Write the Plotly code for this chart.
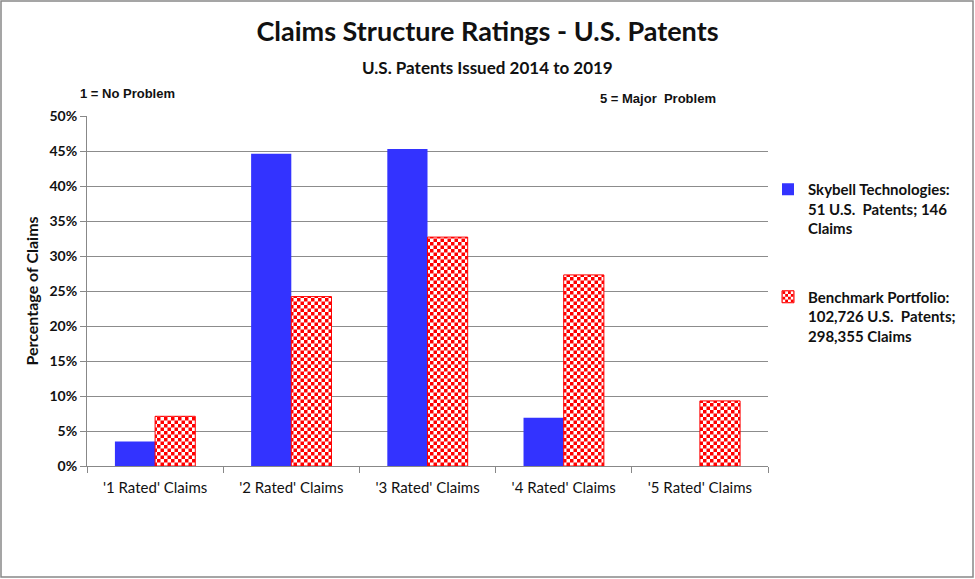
import plotly.graph_objects as go

# ---- data ----
categories = ["'1 Rated' Claims", "'2 Rated' Claims", "'3 Rated' Claims",
              "'4 Rated' Claims", "'5 Rated' Claims"]
skybell_pct = [3.5, 44.6, 45.3, 6.9, 0.0]
benchmark_pct = [7.1, 24.2, 32.7, 27.3, 9.3]
skybell_name = "<b>Skybell Technologies:<br>51 U.S.  Patents; 146<br>Claims</b>"
benchmark_name = "<b>Benchmark Portfolio:<br>102,726 U.S.  Patents;<br>298,355 Claims</b>"
y_tick_vals = [0, 5, 10, 15, 20, 25, 30, 35, 40, 45, 50]
y_tick_text = ["<b>0%</b>", "<b>5%</b>", "<b>10%</b>", "<b>15%</b>", "<b>20%</b>", "<b>25%</b>",
               "<b>30%</b>", "<b>35%</b>", "<b>40%</b>", "<b>45%</b>", "<b>50%</b>"]

W, H = 975, 579
L, R, T, B = 87, 207, 116, 113
pw, ph = W - L - R, H - T - B

def px2x(px):
    return (px - L) / pw

def py2y(py):
    return (H - B - py) / ph

FONT = "Lato, 'Liberation Sans', Arial, sans-serif"
NARROW = "'Liberation Sans Narrow', 'Liberation Sans', Arial, sans-serif"

fig = go.Figure()
fig.add_trace(go.Bar(
    x=categories, y=skybell_pct, name=skybell_name,
    marker=dict(color="#3333FF", line=dict(width=0)),
    legendgroup="a",
))
fig.add_trace(go.Bar(
    x=categories, y=benchmark_pct, name=benchmark_name,
    marker=dict(color="#FF0000", line=dict(color="#FF0000", width=1),
                pattern=dict(shape="x", fgcolor="#FF0000", bgcolor="white",
                             size=7, solidity=0.5, fillmode="replace")),
    legendgroup="b",
))

fig.update_layout(
    width=W, height=H, autosize=False,
    margin=dict(l=L, r=R, t=T, b=B),
    paper_bgcolor="white", plot_bgcolor="white",
    barmode="group", bargap=0.41, bargroupgap=0,
    font=dict(family=FONT, color="#111111"),
    title=dict(text="<b>Claims Structure Ratings - U.S. Patents</b>",
               x=0.5, xref="container", xanchor="center",
               y=1 - 32 / H, yref="container", yanchor="middle",
               font=dict(family=FONT, size=27, color="#111111")),
    showlegend=True,
    legend=dict(x=px2x(768), xanchor="left", y=py2y(173), yanchor="top",
                traceorder="grouped", tracegroupgap=46, valign="top",
                font=dict(family=FONT, size=15, color="#111111"),
                bgcolor="rgba(0,0,0,0)", itemclick=False),
    xaxis=dict(showline=True, linecolor="#888888", linewidth=1,
               ticks="outside", tickson="boundaries", ticklen=6, tickcolor="#888888",
               tickfont=dict(family=FONT, size=15, color="#111111"),
               ticklabelstandoff=8,
               showgrid=False),
    yaxis=dict(range=[0, 50], tickvals=y_tick_vals, ticktext=y_tick_text,
               showline=True, linecolor="#888888", linewidth=1,
               ticks="outside", ticklen=6, tickcolor="#888888",
               showgrid=True, gridcolor="#8c8c8c", gridwidth=1,
               tickfont=dict(family=FONT, size=14, color="#111111"),
               title=dict(text="<b>Percentage of Claims</b>", standoff=6,
                          font=dict(family=FONT, size=16, color="#111111")),
               zeroline=False),
    annotations=[
        dict(text="<b>U.S. Patents Issued 2014 to 2019</b>", xref="paper", yref="paper",
             x=px2x(487), y=py2y(68), xanchor="center", yanchor="middle",
             showarrow=False, font=dict(family=FONT, size=17, color="#111111")),
        dict(text="<b>1 = No Problem</b>", xref="paper", yref="paper",
             x=px2x(127), y=py2y(94), xanchor="center", yanchor="middle",
             showarrow=False, font=dict(family=NARROW, size=13, color="#111111")),
        dict(text="<b>5 = Major  Problem</b>", xref="paper", yref="paper",
             x=px2x(658), y=py2y(98), xanchor="center", yanchor="middle",
             showarrow=False, font=dict(family=NARROW, size=13, color="#111111")),
    ],
    shapes=[
        dict(type="rect", xref="paper", yref="paper", layer="above",
             x0=px2x(1), x1=px2x(973), y0=py2y(577), y1=py2y(1),
             line=dict(color="#888888", width=1.5), fillcolor="rgba(0,0,0,0)"),
    ],
)

post_js = """
document.body.style.margin = '0';
document.body.style.padding = '0';
document.body.style.overflow = 'hidden';
var gd = document.getElementById('{plot_id}');
function checker(){
  var pats = gd.querySelectorAll('pattern');
  pats.forEach(function(p){
    var s = 7, h = 3.5;
    p.setAttribute('width', s); p.setAttribute('height', s);
    p.setAttribute('patternUnits', 'userSpaceOnUse');
    p.innerHTML = '<rect x="0" y="0" width="' + s + '" height="' + s + '" fill="#ffffff"/>' +
                  '<rect x="0" y="0" width="' + h + '" height="' + h + '" fill="#ff0000"/>' +
                  '<rect x="' + h + '" y="' + h + '" width="' + h + '" height="' + h + '" fill="#ff0000"/>';
  });
}
checker();
if (gd.on) { gd.on('plotly_afterplot', checker); }
"""

fig.write_html("out.html", post_script=post_js,
               config={"responsive": False, "displayModeBar": False})
